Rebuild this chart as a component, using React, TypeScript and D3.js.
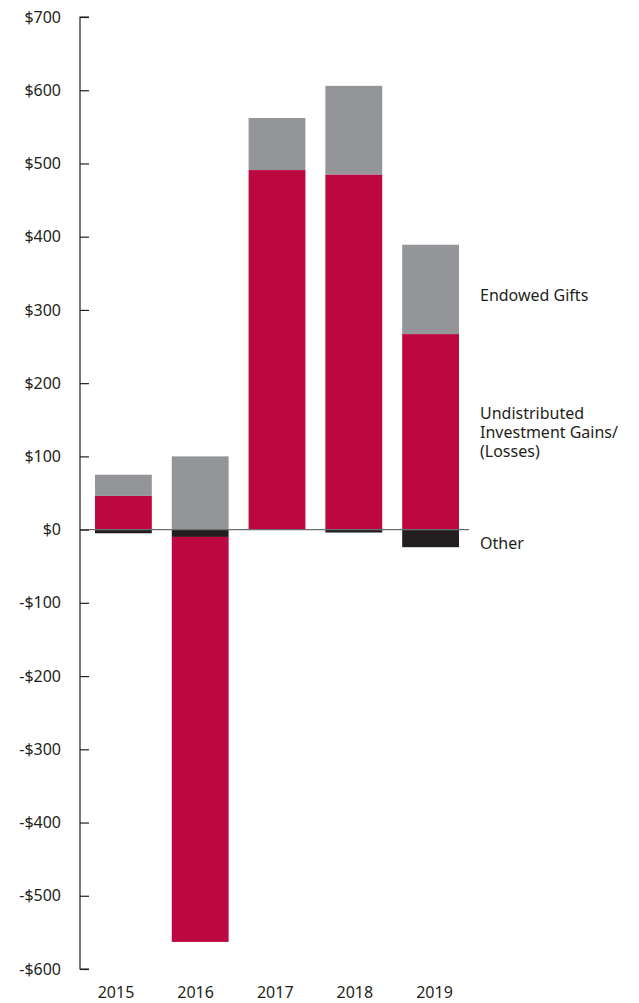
import React, { useEffect, useRef } from "react";
import * as d3 from "d3";

const years = ["2015", "2016", "2017", "2018", "2019"];
const endowedGifts = [29, 100, 71, 121, 122];
const undistributed = [46, -553, 491, 485, 267];
const other = [-5, -10, 0, -4, -24];
const yTicks = [700, 600, 500, 400, 300, 200, 100, 0, -100, -200, -300, -400, -500, -600];

const colors = { endowed: "#939598", undistributed: "#BC0740", other: "#231F20" };

export default function App() {
  const ref = useRef<SVGSVGElement>(null);

  useEffect(() => {
    const svg = d3.select(ref.current);
    svg.selectAll("*").remove();
    const font = "'Noto Sans', sans-serif";

    const y = d3.scaleLinear().domain([-600, 700]).range([969, 17]);
    const x = d3.scaleBand().domain(years).range([85, 469]).paddingInner(0.26).paddingOuter(0.13);
    // year labels sit on a slightly wider spacing than the bars
    const xLabel = d3.scalePoint().domain(years).range([116, 434.5]);

    // stack: positives up from 0, negatives down from 0 (other first, then undistributed)
    const rows = years.map((yr, i) => {
      const segs: { key: string; y0: number; y1: number }[] = [];
      let pos = 0, neg = 0;
      const add = (key: string, v: number) => {
        if (v >= 0) { segs.push({ key, y0: pos, y1: pos + v }); pos += v; }
        else { segs.push({ key, y0: neg, y1: neg + v }); neg += v; }
      };
      add("other", other[i]);
      add("undistributed", undistributed[i]);
      add("endowed", endowedGifts[i]);
      return { yr, segs };
    });

    const g = svg.append("g");
    rows.forEach(r => {
      g.selectAll(null)
        .data(r.segs)
        .enter()
        .append("rect")
        .attr("x", x(r.yr)!)
        .attr("width", x.bandwidth())
        .attr("y", d => y(Math.max(d.y0, d.y1)))
        .attr("height", d => Math.abs(y(d.y0) - y(d.y1)))
        .attr("fill", d => (colors as any)[d.key]);
    });

    // zero line
    svg.append("line")
      .attr("x1", 80).attr("x2", 469)
      .attr("y1", y(0)).attr("y2", y(0))
      .attr("stroke", "#6d6e71").attr("stroke-width", 1.2);

    // y axis, ticks pointing inward
    const axis = svg.append("g")
      .attr("transform", "translate(80,0)")
      .call(d3.axisRight(y).tickValues(yTicks).tickSize(9).tickFormat(() => ""));
    axis.select(".domain").attr("stroke", "#231F20").attr("stroke-width", 1.2).attr("d", `M9,${y(700)}H0V${y(-600)}H9`);
    axis.selectAll(".tick line").attr("stroke", "#231F20").attr("stroke-width", 1.2);

    svg.append("g")
      .selectAll("text")
      .data(yTicks)
      .enter()
      .append("text")
      .attr("x", 61)
      .attr("y", d => y(d))
      .attr("dy", "0.35em")
      .attr("text-anchor", "end")
      .attr("font-family", font)
      .attr("font-size", 16)
      .attr("fill", "#231F20")
      .text(d => (d < 0 ? "-$" + Math.abs(d) : "$" + d));

    svg.append("g")
      .selectAll("text")
      .data(years)
      .enter()
      .append("text")
      .attr("x", d => xLabel(d)!)
      .attr("y", 998)
      .attr("text-anchor", "middle")
      .attr("font-family", font)
      .attr("font-size", 16)
      .attr("fill", "#231F20")
      .text(d => d);

    const legend = [
      { lines: ["Endowed Gifts"], v: 320 },
      { lines: ["Undistributed", "Investment Gains/", "(Losses)"], v: 133 },
      { lines: ["Other"], v: -19 },
    ];
    legend.forEach(l => {
      const t = svg.append("text")
        .attr("x", 480)
        .attr("y", y(l.v) - ((l.lines.length - 1) * 19) / 2)
        .attr("font-family", font)
        .attr("font-size", 16)
        .attr("fill", "#231F20");
      l.lines.forEach((s, i) => {
        t.append("tspan").attr("x", 480).attr("dy", i === 0 ? "0.35em" : 19).text(s);
      });
    });
  }, []);

  return (
    <svg ref={ref} width={639} height={1003} style={{ position: "absolute", left: 0, top: 0 }} />
  );
}
